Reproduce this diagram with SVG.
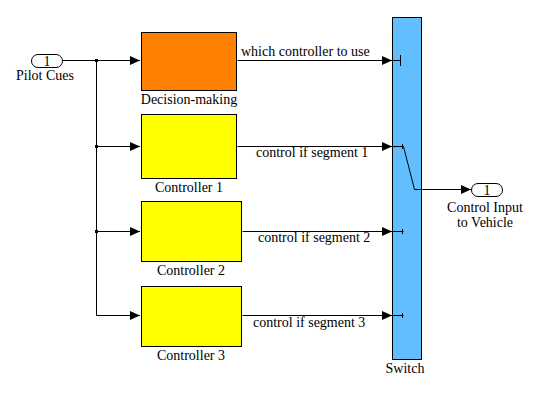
<svg xmlns="http://www.w3.org/2000/svg" width="550" height="404" viewBox="0 0 550 404">
<defs>
<style>
text{font-family:'Liberation Serif','Times New Roman',serif;font-size:14px;fill:#000}
.m{text-anchor:middle}
.ln{fill:none;stroke:#000;stroke-width:1}
.blk{stroke:#000;stroke-width:1}
</style>
<marker id="ah" markerWidth="10" markerHeight="9" refX="10" refY="4.5" orient="auto" markerUnits="userSpaceOnUse">
<path d="M0,0 L10,4.5 L0,9 Z" fill="#000"/>
</marker>
</defs>
<rect width="550" height="404" fill="#fff"/>
<g id="connectors">
<path class="ln" d="M62.5,60.5 H140" marker-end="url(#ah)"/>
<path class="ln" d="M96.5,60.5 V315.5 H140" marker-end="url(#ah)"/>
<path class="ln" d="M96.5,146.5 H140" marker-end="url(#ah)"/>
<path class="ln" d="M96.5,231.5 H140" marker-end="url(#ah)"/>
<rect x="95" y="59" width="3" height="3" fill="#000"/>
<rect x="95" y="145" width="3" height="3" fill="#000"/>
<rect x="95" y="230" width="3" height="3" fill="#000"/>
<path class="ln" d="M237.5,60.5 H392" marker-end="url(#ah)"/>
<path class="ln" d="M237.5,146.5 H392" marker-end="url(#ah)"/>
<path class="ln" d="M242.5,231.5 H392" marker-end="url(#ah)"/>
<path class="ln" d="M242.5,315.5 H392" marker-end="url(#ah)"/>
<path class="ln" d="M422.5,189.5 H471" marker-end="url(#ah)"/>
<text x="241" y="56">which controller to use</text>
<text x="256" y="157">control if segment 1</text>
<text x="258" y="242">control if segment 2</text>
<text x="253" y="327">control if segment 3</text>
</g>
<g id="pilot-cues">
<rect x="31.5" y="54.5" width="31" height="13" rx="6.5" ry="6.5" fill="#fff" stroke="#000"/>
<text class="m" x="47" y="65.5">1</text>
<text class="m" x="45" y="80">Pilot Cues</text>
</g>
<g id="decision-making">
<rect class="blk" x="141.5" y="32.5" width="95" height="58" fill="#FF8000"/>
<text class="m" x="189" y="104">Decision-making</text>
</g>
<g id="controller-1">
<rect class="blk" x="141.5" y="114.5" width="95" height="64" fill="#FFFF00"/>
<text class="m" x="189" y="192">Controller 1</text>
</g>
<g id="controller-2">
<rect class="blk" x="141.5" y="201.5" width="100" height="60" fill="#FFFF00"/>
<text class="m" x="191" y="275">Controller 2</text>
</g>
<g id="controller-3">
<rect class="blk" x="141.5" y="286.5" width="100" height="60" fill="#FFFF00"/>
<text class="m" x="191" y="360">Controller 3</text>
</g>
<g id="switch">
<rect class="blk" x="392.5" y="17.5" width="29" height="342" fill="#63BEFF"/>
<path class="ln" d="M392.5,60.5 H400.5 M400.5,55 V66"/>
<path class="ln" d="M392.5,146.5 H403.5 L414.5,189.5 H422.5"/>
<path class="ln" d="M392.5,231.5 H403.5"/>
<path class="ln" d="M392.5,315.5 H403.5"/>
<path class="ln" d="M402.5,144 V149 M402.5,229 V234 M402.5,313 V318" stroke-width="2"/>
<text class="m" x="405" y="373">Switch</text>
</g>
<g id="control-input">
<rect x="471.5" y="183.5" width="31" height="13" rx="6.5" ry="6.5" fill="#fff" stroke="#000"/>
<text class="m" x="487" y="194.5">1</text>
<text class="m" x="485" y="212">Control Input</text>
<text class="m" x="485" y="227">to Vehicle</text>
</g>
</svg>
